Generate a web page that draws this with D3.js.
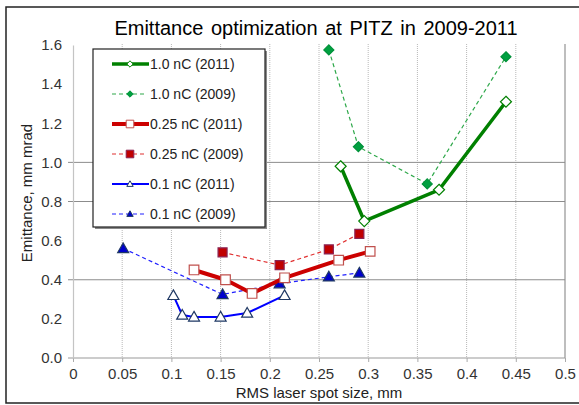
<!DOCTYPE html>
<html>
<head>
<meta charset="utf-8">
<script src="https://cdn.jsdelivr.net/npm/d3@7"></script>
<style>
  body { margin: 0; background: #fff; }
  svg { display: block; font-family: "Liberation Sans", Arial, Helvetica, sans-serif; }
</style>
</head>
<body>
<svg id="chart" width="579" height="405"></svg>
<script>
// ---- data ----
const xTicks = [0, 0.05, 0.1, 0.15, 0.2, 0.25, 0.3, 0.35, 0.4, 0.45, 0.5]
const yTicks = [0, 0.2, 0.4, 0.6, 0.8, 1.0, 1.2, 1.4, 1.6]
const yGrid = [0.4, 0.8, 1.0]

const spot10_2011 = [0.272, 0.296, 0.372, 0.44]
const emit10_2011 = [0.98, 0.70, 0.86, 1.31]
const spot10_2009 = [0.26, 0.29, 0.36, 0.44]
const emit10_2009 = [1.575, 1.08, 0.89, 1.54]
const spot025_2011 = [0.123, 0.155, 0.182, 0.215, 0.27, 0.302]
const emit025_2011 = [0.45, 0.40, 0.33, 0.41, 0.50, 0.545]
const spot025_2009 = [0.152, 0.21, 0.26, 0.291]
const emit025_2009 = [0.54, 0.475, 0.555, 0.635]
const spot01_2011 = [0.102, 0.111, 0.123, 0.15, 0.177, 0.215]
const emit01_2011 = [0.32, 0.22, 0.21, 0.21, 0.23, 0.32]
const spot01_2009 = [0.051, 0.152, 0.21, 0.26, 0.291]
const emit01_2009 = [0.56, 0.325, 0.38, 0.415, 0.435]

const seriesNames = ["1.0 nC (2011)", "1.0 nC (2009)", "0.25 nC (2011)", "0.25 nC (2009)", "0.1 nC (2011)", "0.1 nC (2009)"]
const seriesX = [spot10_2011, spot10_2009, spot025_2011, spot025_2009, spot01_2011, spot01_2009]
const seriesY = [emit10_2011, emit10_2009, emit025_2011, emit025_2009, emit01_2011, emit01_2009]

// styles, one per series (same order as above)
const styles = [
    { line: "#008000", width: 3.5, dash: null, shape: "diamond", fill: "#fff", stroke: "#008000", r: 5.5 },
    { line: "#2ea84a", width: 1.2, dash: "4,3", shape: "diamond", fill: "#00a040", stroke: "#00913a", r: 5 },
    { line: "#cc0000", width: 4, dash: null, shape: "square", fill: "#fff", stroke: "#c0504d", r: 4.8 },
    { line: "#e03030", width: 1.2, dash: "4,3", shape: "square", fill: "#c00000", stroke: "#8b2252", r: 4.5 },
    { line: "#0000ff", width: 2, dash: null, shape: "triangle", fill: "#fff", stroke: "#1f3864", r: 5.5 },
    { line: "#2020ff", width: 1.2, dash: "4,3", shape: "triangle", fill: "#0000cc", stroke: "#1f3864", r: 5.5 }
]

const svg = d3.select("#chart")

const x = d3.scaleLinear().domain([0, 0.5]).range([73, 565])
const y = d3.scaleLinear().domain([0, 1.6]).range([358, 45])

// outer frame (right edge runs off the picture)
svg.append("rect")
    .attr("x", 6).attr("y", 7).attr("width", 600).attr("height", 396)
    .attr("fill", "none").attr("stroke", "#222").attr("stroke-width", 1.5)

// title
svg.append("text")
    .attr("x", 316).attr("y", 35)
    .attr("text-anchor", "middle")
    .style("font-size", "20px")
    .style("word-spacing", "2px")
    .text("Emittance optimization at PITZ in 2009-2011")

// vertical dotted grid
svg.append("g").selectAll("line")
    .data(xTicks.filter(d => d > 0 && d < 0.5))
    .join("line")
    .attr("x1", d => x(d)).attr("x2", d => x(d))
    .attr("y1", y(1.6) - 1).attr("y2", y(0))
    .attr("stroke", "#b8b8b8").attr("stroke-dasharray", "1,1")

// right border of plot area
svg.append("line")
    .attr("x1", x(0.5)).attr("x2", x(0.5))
    .attr("y1", y(1.6) - 1).attr("y2", y(0))
    .attr("stroke", "#a8a8a8").attr("stroke-width", 1.5)

// horizontal grid (only some values carry a line)
svg.append("g").selectAll("line")
    .data(yGrid)
    .join("line")
    .attr("x1", x(0) - 5).attr("x2", x(0.5))
    .attr("y1", d => y(d)).attr("y2", d => y(d))
    .attr("stroke", "#8c8c8c")

// x axis
const xAxis = svg.append("g")
    .attr("transform", "translate(0," + y(0) + ")")
    .call(d3.axisBottom(x).tickValues(xTicks).tickSize(4).tickPadding(6).tickFormat(d3.format("~g")))
xAxis.select(".domain").attr("stroke", "#999").attr("d", "M" + (x(0) - 5) + ",0H" + x(0.5))
xAxis.selectAll(".tick line").attr("stroke", "#aaa")
xAxis.selectAll(".tick text").attr("fill", "#333").style("font-size", "15px").style("font-family", "inherit")

// y axis
const yAxis = svg.append("g")
    .attr("transform", "translate(" + x(0) + ",0)")
    .call(d3.axisLeft(y).tickValues(yTicks).tickSize(0).tickPadding(11).tickFormat(d3.format(".1f")))
yAxis.select(".domain").attr("stroke", "#c4c4c4").attr("stroke-width", 1.2)
yAxis.selectAll(".tick text").attr("fill", "#333").style("font-size", "15px").style("font-family", "inherit")

// axis titles
svg.append("text")
    .attr("x", x(0.25)).attr("y", 398)
    .attr("text-anchor", "middle")
    .attr("fill", "#222")
    .style("font-size", "15px")
    .text("RMS laser spot size, mm")

svg.append("text")
    .attr("transform", "translate(32,193) rotate(-90)")
    .attr("text-anchor", "middle")
    .attr("fill", "#222")
    .style("font-size", "15px")
    .text("Emittance, mm mrad")

function markerPath(shape, r) {
    if (shape == "diamond") return `M0,${-r}L${r},0L0,${r}L${-r},0Z`
    if (shape == "square") return `M${-r},${-r}H${r}V${r}H${-r}Z`
    return `M0,${-r}L${r},${r * 0.75}L${-r},${r * 0.75}Z` // triangle
}

// series: draw the dashed (2009) ones first, then 2011
const order = [1, 3, 5, 0, 2, 4]
const line = d3.line().x(d => x(d[0])).y(d => y(d[1]))

order.forEach(function (i) {
    const st = styles[i]
    const pts = seriesX[i].map((v, k) => [v, seriesY[i][k]])
    const g = svg.append("g").attr("class", "series")
    g.append("path")
        .attr("d", line(pts))
        .attr("fill", "none")
        .attr("stroke", st.line)
        .attr("stroke-width", st.width)
        .attr("stroke-dasharray", st.dash)
        .attr("stroke-linejoin", "round")
    g.selectAll("path.mk")
        .data(pts)
        .join("path")
        .attr("class", "mk")
        .attr("transform", d => "translate(" + x(d[0]) + "," + y(d[1]) + ")")
        .attr("d", markerPath(st.shape, st.r))
        .attr("fill", st.fill)
        .attr("stroke", st.stroke)
        .attr("stroke-width", 1.2)
})

// legend
const legend = svg.append("g").attr("transform", "translate(93,49)")
legend.append("rect")
    .attr("x", 2).attr("y", 2).attr("width", 172).attr("height", 178)
    .attr("fill", "#8a8a8a")
legend.append("rect")
    .attr("x", 0).attr("y", 0).attr("width", 172).attr("height", 178)
    .attr("fill", "#fff").attr("stroke", "#222").attr("stroke-width", 1.2)

seriesNames.forEach(function (name, i) {
    const st = styles[i]
    const row = legend.append("g").attr("transform", "translate(0," + (15 + i * 30) + ")")
    row.append("line")
        .attr("x1", 19).attr("x2", st.dash ? 51 : 56)
        .attr("stroke", st.line)
        .attr("stroke-width", st.width)
        .attr("stroke-dasharray", st.dash)
    row.append("path")
        .attr("transform", "translate(37,0)")
        .attr("d", markerPath(st.shape, st.shape == "square" ? 3.8 : 3.2))
        .attr("fill", st.fill)
        .attr("stroke", st.stroke)
        .attr("stroke-width", 1)
    row.append("text")
        .attr("x", 57).attr("y", 5)
        .style("font-size", "14px")
        .attr("fill", "#222")
        .text(name)
})
</script>
</body>
</html>
